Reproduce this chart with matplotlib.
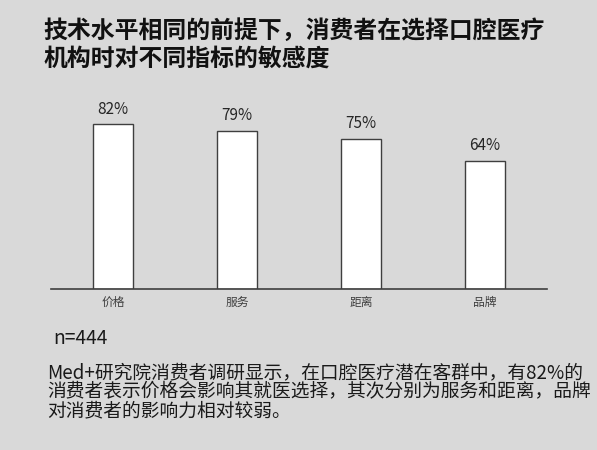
import matplotlib
matplotlib.use("Agg")
import matplotlib.pyplot as plt

plt.rcParams['font.family'] = ['Noto Sans CJK SC', 'DejaVu Sans']

# data
categories = ['价格', '服务', '距离', '品牌']
values = [82, 79, 75, 64]
value_labels = ['82%', '79%', '75%', '64%']

title_lines = ['技术水平相同的前提下，消费者在选择口腔医疗',
               '机构时对不同指标的敏感度']
sample_note = 'n=444'
para_lines = ['Med+研究院消费者调研显示，在口腔医疗潜在客群中，有82%的',
              '消费者表示价格会影响其就医选择，其次分别为服务和距离，品牌',
              '对消费者的影响力相对较弱。']

bg = '#d9d9d9'
W, H = 597, 450

fig = plt.figure(figsize=(W / 100, H / 100), dpi=100, facecolor=bg)

# axes placed in pixel terms
ax_l, ax_r, ax_base = 51, 547, 289.3
ymax = 90
px_per = 2.01
ax_h = ymax * px_per
ax = fig.add_axes([ax_l / W, 1 - ax_base / H, (ax_r - ax_l) / W, ax_h / H])
ax.set_facecolor(bg)

x = range(len(categories))
ax.bar(x, values, width=0.315, color='white', edgecolor='#3f3f3f', linewidth=1.0)
for i, (v, lab) in enumerate(zip(values, value_labels)):
    ax.annotate(lab, (i, v), xytext=(0, 11), textcoords='offset points',
                ha='center', va='center', fontsize=11, color='#262626')

ax.set_xlim(-0.5, len(categories) - 0.5)
ax.set_ylim(0, ymax)
ax.set_xticks(list(x))
ax.set_xticklabels(categories, fontsize=8.5, color='#404040')
ax.tick_params(axis='x', length=0, pad=5)
ax.set_yticks([])
for s in ['top', 'right', 'left']:
    ax.spines[s].set_visible(False)
ax.spines['bottom'].set_color('#3f3f3f')
ax.spines['bottom'].set_linewidth(1.2)

# title
for k, line in enumerate(title_lines):
    fig.text(43 / W, 1 - (31 + 28 * k) / H, line, fontsize=17.2, fontweight='black',
             color='#111111', va='center', ha='left')

fig.text(53 / W, 1 - 338 / H, sample_note, fontsize=13.8, color='#1a1a1a',
         va='center', ha='left')

for k, line in enumerate(para_lines):
    fig.text(47 / W, 1 - (373 + 19 * k) / H, line, fontsize=13.5, color='#1a1a1a',
             va='center', ha='left')

fig.savefig('out.png', dpi=100, facecolor=bg)
